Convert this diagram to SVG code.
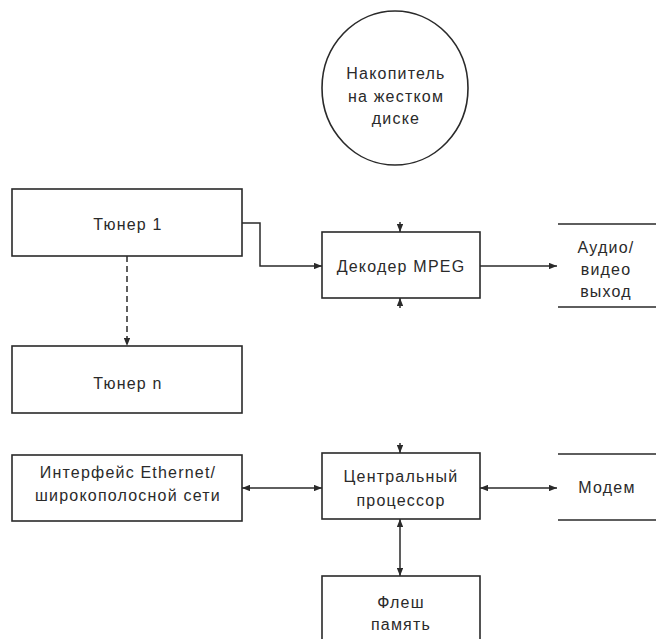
<svg xmlns="http://www.w3.org/2000/svg" width="656" height="639" viewBox="0 0 656 639">
<style>
.box{fill:none;stroke:#2a2a2a;stroke-width:1.6}
.ln{fill:none;stroke:#2a2a2a;stroke-width:1.5}
.dash{stroke-dasharray:6 4}
text{font-family:"Liberation Sans",Arial,sans-serif;font-size:16px;letter-spacing:1.2px;fill:#2a2a2a;text-anchor:middle}
</style>
<defs>
<marker id="ah" viewBox="0 0 10 8" refX="10" refY="4" markerWidth="8" markerHeight="6.4" markerUnits="userSpaceOnUse" orient="auto-start-reverse">
<path d="M0,0 L10,4 L0,8 z" fill="#2a2a2a"/>
</marker>
</defs>
<rect width="656" height="639" fill="#ffffff"/>
<g id="hdd">
<ellipse cx="395" cy="88" rx="73" ry="77" class="box"/>
<text x="396" y="79">Накопитель</text>
<text x="396" y="102">на жестком</text>
<text x="396" y="124">диске</text>
</g>
<g id="tuner1">
<rect x="12" y="189" width="230" height="67" class="box"/>
<text x="128" y="230">Тюнер 1</text>
</g>
<g id="tunern">
<rect x="12" y="346" width="230" height="67" class="box"/>
<text x="128" y="389">Тюнер n</text>
</g>
<g id="decoder">
<rect x="322" y="232" width="158" height="66" class="box"/>
<text x="401" y="272">Декодер MPEG</text>
</g>
<g id="av">
<path d="M558,224 H656 M558,307 H656" class="box"/>
<text x="606" y="253">Аудио/</text>
<text x="606" y="275">видео</text>
<text x="606" y="297">выход</text>
</g>
<g id="ethernet">
<rect x="12" y="455" width="230" height="66" class="box"/>
<text x="128" y="478">Интерфейс Ethernet/</text>
<text x="128" y="501">широкополосной сети</text>
</g>
<g id="cpu">
<rect x="322" y="453" width="158" height="66" class="box"/>
<text x="401" y="482">Центральный</text>
<text x="401" y="506">процессор</text>
</g>
<g id="modem">
<path d="M558,454 H656 M558,520 H656" class="box"/>
<text x="607" y="493">Модем</text>
</g>
<g id="flash">
<rect x="322" y="576" width="158" height="80" class="box"/>
<text x="401" y="608">Флеш</text>
<text x="401" y="630">память</text>
</g>
<g id="connectors">
<path d="M242,223 H260 V266 H322" class="ln" marker-end="url(#ah)"/>
<path d="M127,256 V346" class="ln dash" marker-end="url(#ah)"/>
<path d="M480,266 H557" class="ln" marker-end="url(#ah)"/>
<path d="M400,222 V232" class="ln" marker-end="url(#ah)"/>
<path d="M400,308 V298" class="ln" marker-end="url(#ah)"/>
<path d="M400,443 V453" class="ln" marker-end="url(#ah)"/>
<path d="M242,488 H322" class="ln" marker-start="url(#ah)" marker-end="url(#ah)"/>
<path d="M480,488 H557" class="ln" marker-start="url(#ah)" marker-end="url(#ah)"/>
<path d="M400,519 V576" class="ln" marker-start="url(#ah)" marker-end="url(#ah)"/>
</g>
</svg>
